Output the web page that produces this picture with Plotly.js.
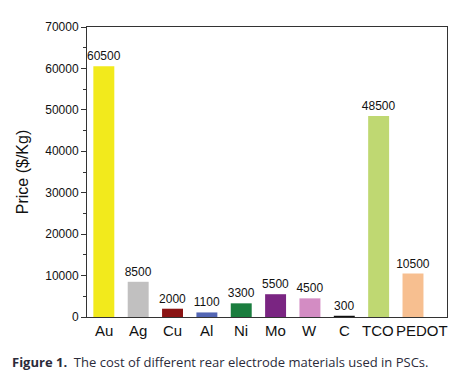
<!DOCTYPE html>
<html>
<head>
<meta charset="utf-8">
<script src="https://cdn.plot.ly/plotly-3.0.1.min.js"></script>
<style>html,body{margin:0;padding:0;background:#fff;}#chart{width:456px;height:382px;}</style>
</head>
<body>
<div id="chart"></div>
<script>
const materials = ["Au", "Ag", "Cu", "Al", "Ni", "Mo", "W", "C", "TCO", "PEDOT"];
const prices = [60500, 8500, 2000, 1100, 3300, 5500, 4500, 300, 48500, 10500];
const barColors = ["#f2ea1c", "#c1c0c0", "#8a1414", "#5366b4", "#1a7d3e", "#7a2582", "#d38cc3", "#111111", "#bfd872", "#f7bf90"];
const yTicks = [0, 10000, 20000, 30000, 40000, 50000, 60000, 70000];

const trace = {
  type: "bar",
  x: materials,
  y: prices,
  marker: {color: barColors, line: {width: 0}},
  width: 0.61,
  text: prices.map(String),
  textposition: "outside",
  textfont: {family: "Liberation Sans, Arial, sans-serif", size: 12, color: "#111"},
  constraintext: "none",
  cliponaxis: false,
  hoverinfo: "none"
};

// category labels as annotations (so the last one can sit slightly right, as in the reference)
const catLabels = materials.map((m, i) => ({
  xref: "x", yref: "paper", x: m, y: 0,
  xanchor: "center", yanchor: "top", yshift: -3,
  xshift: i === materials.length - 1 ? 9 : (i === materials.length - 2 ? -1 : 0),
  showarrow: false, text: m,
  font: {family: "Liberation Sans, Arial, sans-serif", size: 15, color: "#111"}
}));

const layout = {
  width: 456, height: 382,
  margin: {l: 87, r: 9, t: 27, b: 65},
  paper_bgcolor: "#fff", plot_bgcolor: "#fff",
  showlegend: false,
  font: {family: "Liberation Sans, Arial, sans-serif", color: "#111"},
  xaxis: {
    type: "category",
    range: [-0.49, 9.99],
    showticklabels: false,
    showline: true, mirror: true, linecolor: "#333", linewidth: 1,
    ticks: "", showgrid: false, zeroline: false
  },
  yaxis: {
    range: [0, 70000],
    tickvals: yTicks,
    ticktext: yTicks.map(String),
    ticks: "outside", ticklen: 5, tickcolor: "#333", tickwidth: 1,
    minor: {dtick: 5000, ticks: "outside", ticklen: 3, tickcolor: "#333"},
    showline: true, mirror: true, linecolor: "#333", linewidth: 1,
    showgrid: false, zeroline: false,
    tickfont: {size: 12, color: "#111"},
    title: {text: "Price ($/Kg)", font: {size: 16, color: "#111"}, standoff: 12}
  },
  annotations: catLabels.concat([{
    xref: "paper", yref: "paper", x: -87/360, y: -45/290,
    xanchor: "left", yanchor: "middle", showarrow: false,
    text: "<b>Figure 1.</b>  The cost of different rear electrode materials used in PSCs.",
    font: {family: "Open Sans, Noto Sans, sans-serif", size: 13, color: "#2b2b3a"},
    xshift: 10
  }])
};

Plotly.newPlot("chart", [trace], layout, {displayModeBar: false, staticPlot: true});
</script>
</body>
</html>
